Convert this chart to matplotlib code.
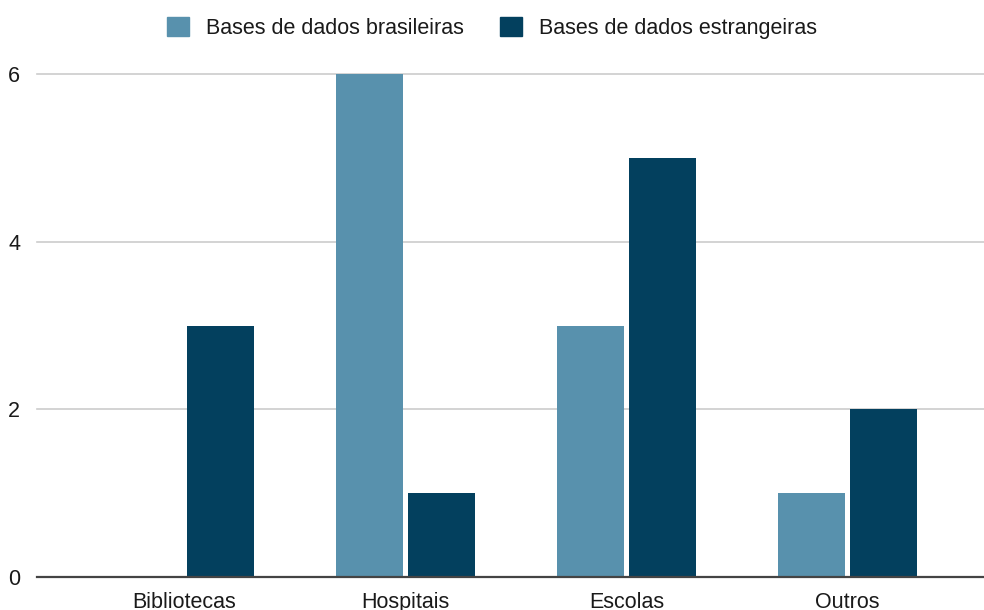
import numpy as np
import matplotlib.pyplot as plt
from matplotlib.patches import Patch

categories = ['Bibliotecas', 'Hospitais', 'Escolas', 'Outros']
brasileiras = [0, 6, 3, 1]
estrangeiras = [3, 1, 5, 2]
series_names = ['Bases de dados brasileiras', 'Bases de dados estrangeiras']

light = '#5891ad'
dark = '#03405e'

plt.rcParams['font.family'] = ['Liberation Sans', 'DejaVu Sans']

fig = plt.figure(figsize=(9.84, 6.10), dpi=100)
ax = fig.add_axes([37 / 984, 33 / 610, 947 / 984, 503 / 610])

x = np.arange(len(categories))
w = 0.303
off = 0.163
ax.bar(x - off, brasileiras, w, color=light, zorder=3)
ax.bar(x + off, estrangeiras, w, color=dark, zorder=3)

ax.set_xlim(-0.667, 3.618)
ax.set_ylim(0, 6)
ax.set_yticks([0, 2, 4, 6])
ax.set_xticks(x)
ax.set_xticklabels(categories)
ax.grid(axis='y', color='#cccccc', linewidth=1.2, zorder=0)
for gl in ax.get_ygridlines():
    gl.set_clip_on(False)
for s in ['top', 'right', 'left']:
    ax.spines[s].set_visible(False)
ax.spines['bottom'].set_color('#444444')
ax.spines['bottom'].set_linewidth(1.6)
ax.spines['bottom'].set_zorder(4)
ax.tick_params(axis='both', length=0, labelsize=15.5, colors='#1a1a1a')
ax.tick_params(axis='y', pad=12)
ax.tick_params(axis='x', pad=11)

handles = [Patch(color=light), Patch(color=dark)]
fig.legend(handles, series_names, loc='center', bbox_to_anchor=(0.5, 1 - 28 / 610),
           ncol=2, frameon=False, fontsize=15.5, handlelength=1.0, handleheight=1.0,
           handletextpad=0.8, columnspacing=1.7, labelcolor='#1a1a1a')

fig.savefig('out.png', dpi=100)
